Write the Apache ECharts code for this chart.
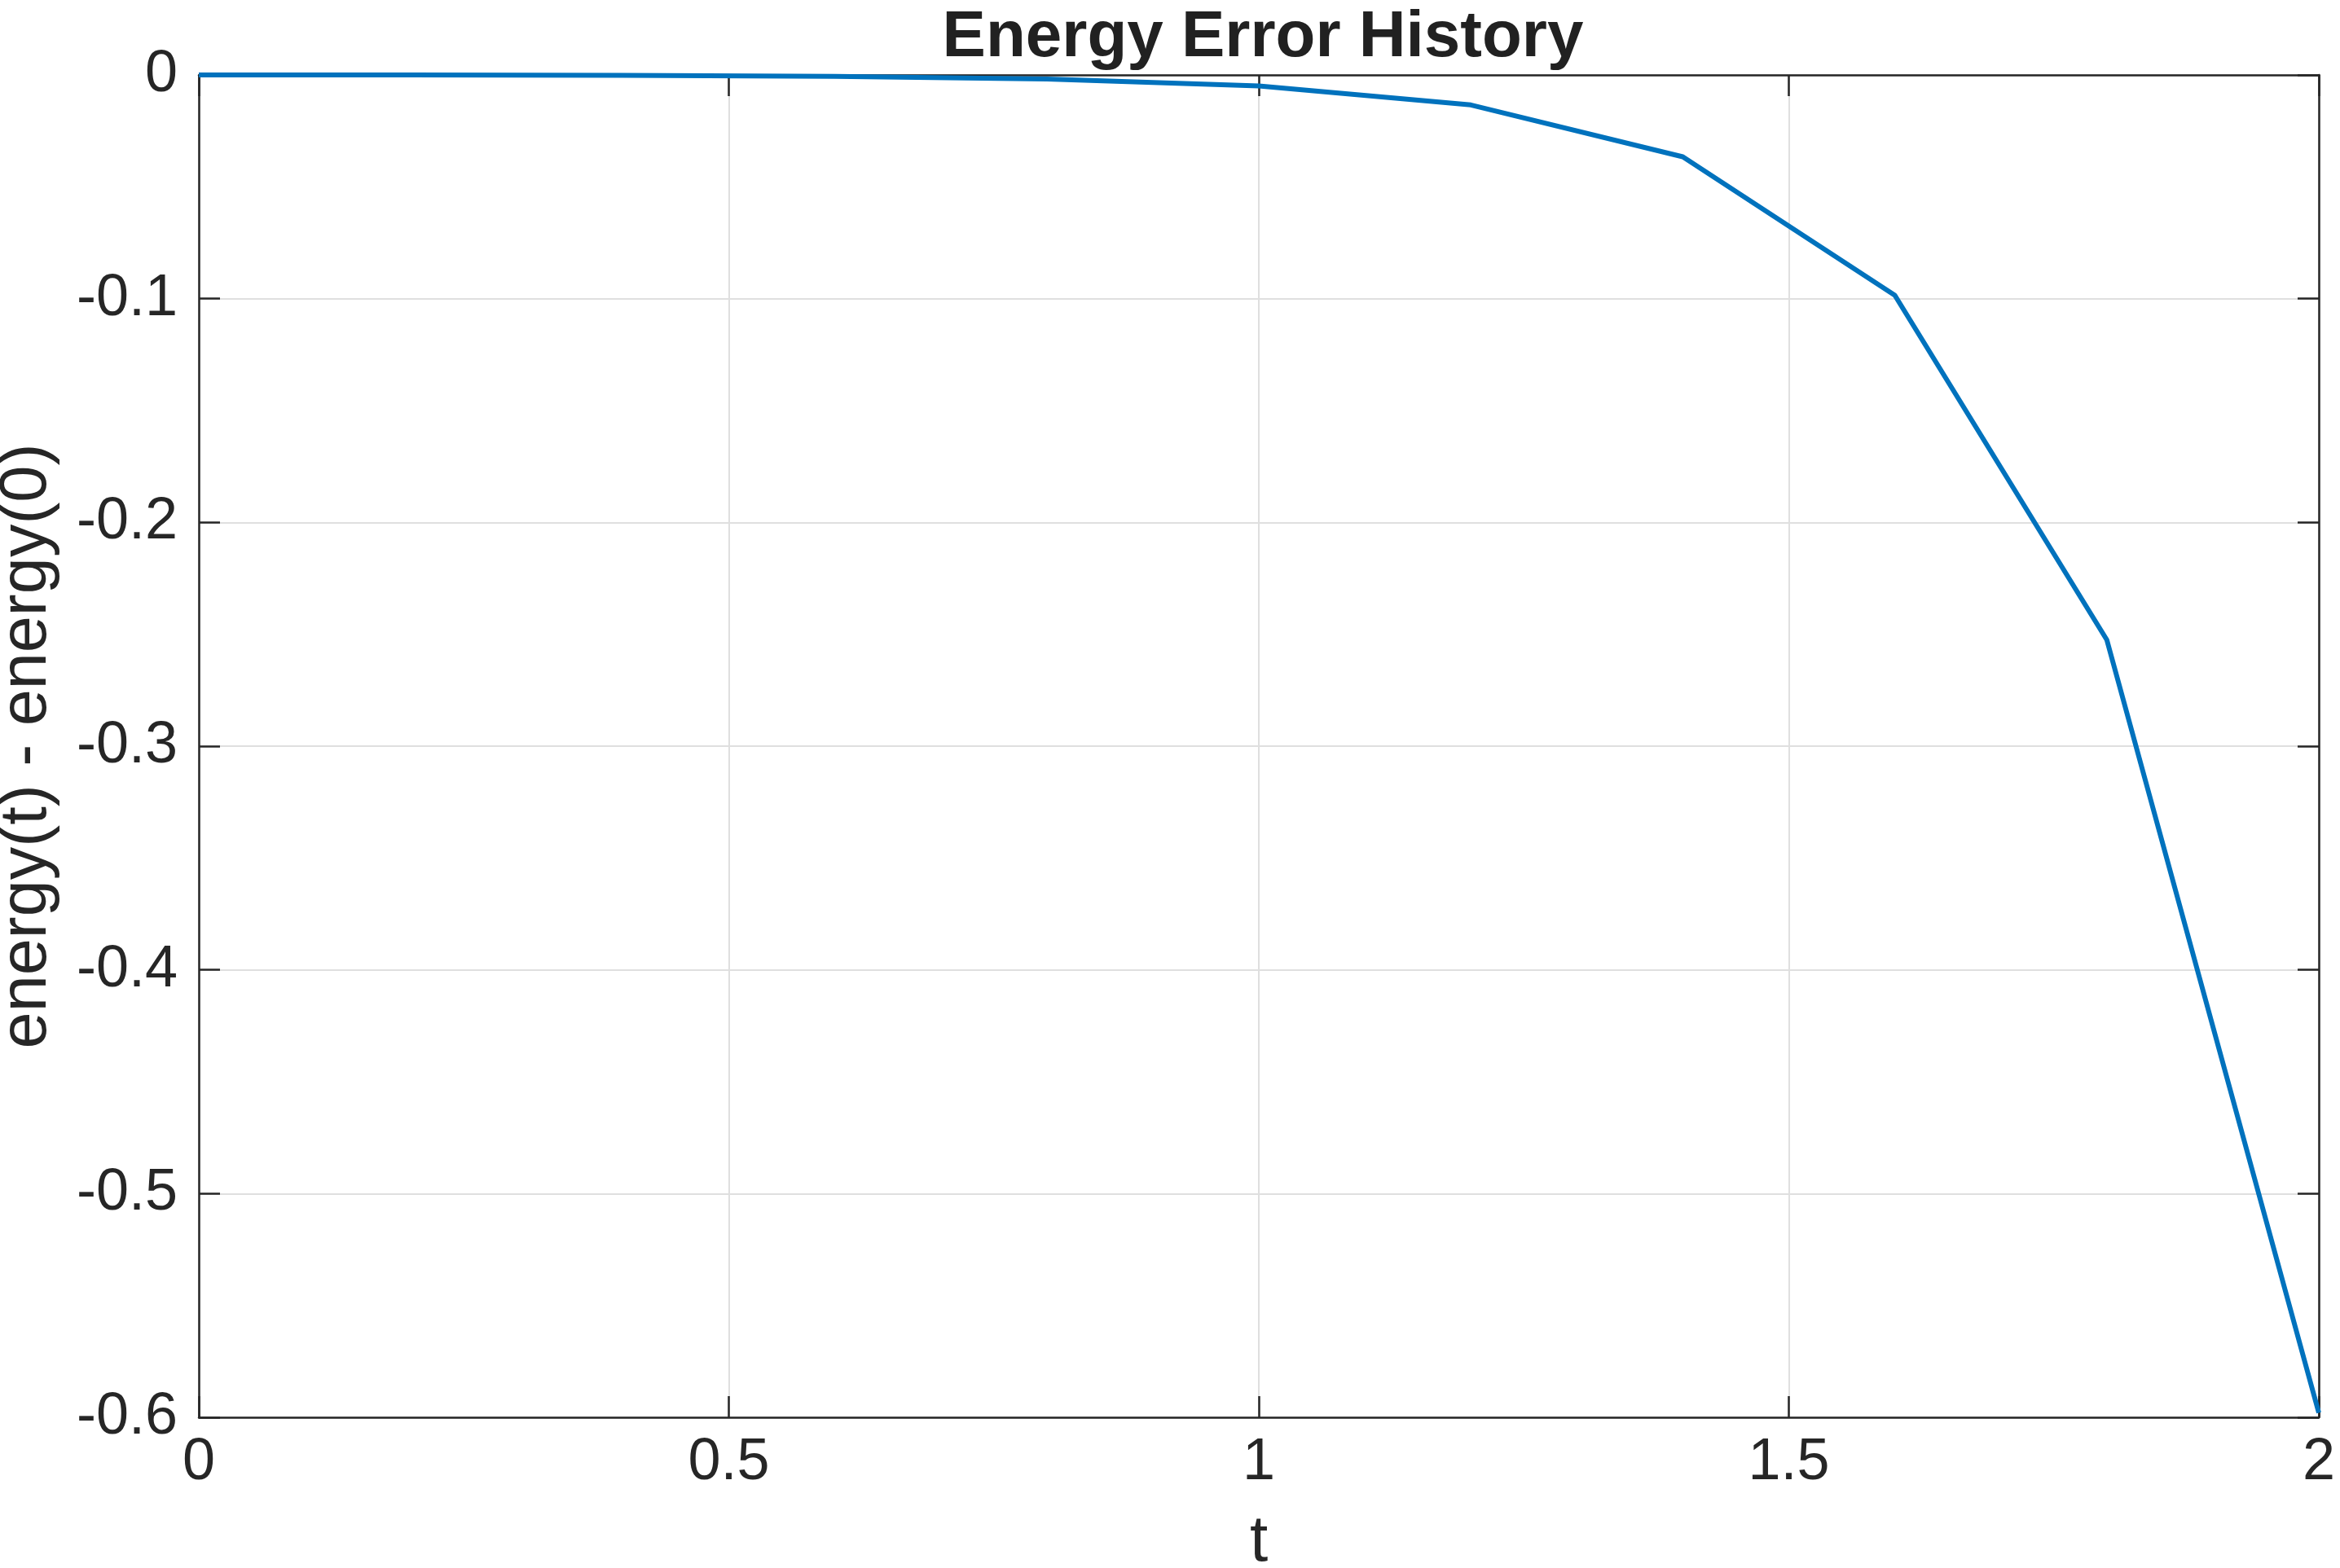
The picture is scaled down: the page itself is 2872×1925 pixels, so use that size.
<!DOCTYPE html>
<html>
<head>
<meta charset="utf-8">
<script src="https://cdn.jsdelivr.net/npm/echarts@6/dist/echarts.min.js"></script>
<style>
html,body{margin:0;padding:0;background:#fff;overflow:hidden;}
#c{width:2872px;height:1925px;}
</style>
</head>
<body>
<div id="c"></div>
<script>
const tValues = [0, 0.2, 0.4, 0.6, 0.8, 1.0, 1.2, 1.4, 1.6, 1.8, 2.0];
const energyError = [0, -0.00003, -0.0002, -0.0006, -0.0018, -0.0049, -0.0134, -0.0366, -0.0985, -0.2525, -0.598];
const titleText = 'Energy Error History';
const xName = 't';
const yName = 'energy(t) - energy(0)';

const FONT = '"Liberation Sans", Arial, Helvetica, sans-serif';
const AX = '#262626';
const chart = echarts.init(document.getElementById('c'), null, {renderer: 'canvas'});

const common = {
  axisLine: {show: true, onZero: false, lineStyle: {color: AX, width: 2.5}},
  axisTick: {show: true, inside: true, length: 26, lineStyle: {color: AX, width: 2.5}},
};

chart.setOption({
  backgroundColor: '#fff',
  animation: false,
  title: {
    text: titleText,
    left: 1545, top: 2, textAlign: 'center',
    textStyle: {fontFamily: FONT, fontSize: 80, fontWeight: 'bold', color: '#212121'}
  },
  grid: {left: 244, right: 26, top: 92, bottom: 185, containLabel: false, outerBoundsMode: 'none'},
  xAxis: [{
    type: 'value', min: 0, max: 2, interval: 0.5, position: 'bottom',
    name: xName, nameLocation: 'middle', nameGap: 114,
    nameTextStyle: {fontFamily: FONT, fontSize: 80, color: AX},
    ...common,
    axisLabel: {fontFamily: FONT, fontSize: 72, color: AX, margin: 20,
      formatter: v => String(v)},
    splitLine: {show: true, lineStyle: {color: '#dfdfdf', width: 2}}
  }, {
    type: 'value', min: 0, max: 2, interval: 0.5, position: 'top',
    ...common, axisLabel: {show: false}, splitLine: {show: false}
  }],
  yAxis: [{
    type: 'value', min: -0.6, max: 0, interval: 0.1, position: 'left',
    name: yName, nameLocation: 'middle', nameGap: 170, nameRotate: 90,
    nameTextStyle: {fontFamily: FONT, fontSize: 81, color: AX},
    ...common,
    axisLabel: {fontFamily: FONT, fontSize: 72, color: AX, margin: 26,
      formatter: v => String(Math.round(v * 10) / 10)},
    splitLine: {show: true, lineStyle: {color: '#dfdfdf', width: 2}}
  }, {
    type: 'value', min: -0.6, max: 0, interval: 0.1, position: 'right',
    ...common, axisLabel: {show: false}, splitLine: {show: false}
  }],
  series: [{
    type: 'line',
    data: tValues.map((t, i) => [t, energyError[i]]),
    showSymbol: false,
    lineStyle: {color: '#0072BD', width: 6},
    itemStyle: {color: '#0072BD'},
    clip: false
  }]
});
</script>
</body>
</html>
